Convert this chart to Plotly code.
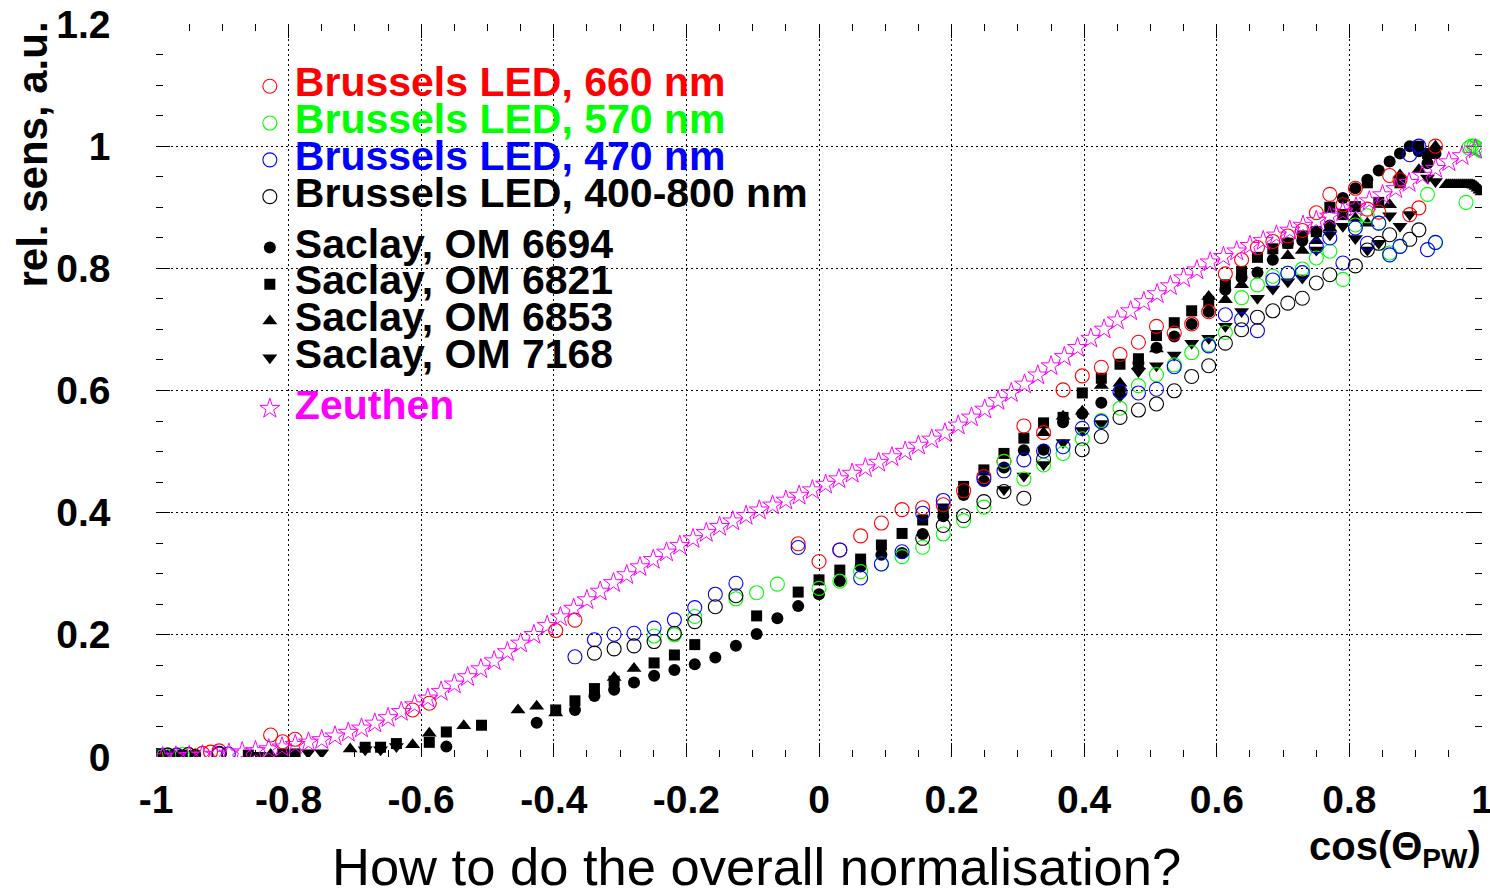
import plotly.graph_objects as go

# ---------------- data ----------------
x_tickvals = [-1, -0.8, -0.6, -0.4, -0.2, 0, 0.2, 0.4, 0.6, 0.8, 1]
x_ticktext = ["-1", "-0.8", "-0.6", "-0.4", "-0.2", "0", "0.2", "0.4", "0.6", "0.8", "1"]
y_tickvals = [0, 0.2, 0.4, 0.6, 0.8, 1.0, 1.2]
y_ticktext = ["0", "0.2", "0.4", "0.6", "0.8", "1", "1.2"]

# Brussels LED, 660 nm
red_x = [-1.0, -0.998, -0.9921, -0.9823, -0.9686, -0.9511, -0.9298, -0.9178, -0.9048,
         -0.8271, -0.809, -0.7902, -0.6129, -0.5878, -0.3971, -0.3681, -0.0314, 0.0,
         0.0314, 0.0628, 0.0941, 0.1253, 0.1564, 0.1874, 0.2181, 0.2487, 0.279, 0.309,
         0.3387, 0.3681, 0.3971, 0.4258, 0.454, 0.4818, 0.509, 0.5358, 0.5621, 0.5878,
         0.6129, 0.6374, 0.6613, 0.6845, 0.7071, 0.729, 0.7501, 0.7705, 0.7902, 0.809,
         0.8271, 0.8443, 0.8607, 0.8763, 0.891, 0.9048, 0.9298]
red_y = [0.002, 0.002, 0.002, 0.003, 0.003, 0.004, 0.006, 0.008, 0.010,
         0.036, 0.025, 0.029, 0.077, 0.088, 0.207, 0.224, 0.349, 0.320,
         0.339, 0.362, 0.383, 0.405, 0.408, 0.413, 0.436, 0.459, 0.484, 0.542,
         0.531, 0.601, 0.624, 0.638, 0.659, 0.679, 0.705, 0.694, 0.709, 0.729,
         0.791, 0.814, 0.834, 0.844, 0.853, 0.862, 0.891, 0.921, 0.904, 0.931,
         0.897, 0.892, 0.952, 0.945, 0.888, 0.899, 1.0]

# Brussels LED, 570 nm
green_x = [-0.9995, -0.9877, -0.9603, -0.2487, -0.2181, -0.1874, -0.1253, -0.0941, -0.0628,
           0.0, 0.0314, 0.0628, 0.0941, 0.1253, 0.1564, 0.1874, 0.2181, 0.2487, 0.279,
           0.309, 0.3387, 0.3681, 0.3971, 0.4258, 0.454, 0.4818, 0.509, 0.5358, 0.5621,
           0.5878, 0.6129, 0.6374, 0.6613, 0.6845, 0.7071, 0.729, 0.7501, 0.7705, 0.7902,
           0.809, 0.8271, 0.8443, 0.8607, 0.8763, 0.9178, 0.9298, 0.9759,
           0.980, 0.984, 0.988, 0.991, 0.994, 0.997, 1.0]
green_y = [0.002, 0.003, 0.004, 0.198, 0.200, 0.230, 0.259, 0.269, 0.283,
           0.276, 0.288, 0.3035, 0.316, 0.328, 0.3435, 0.365, 0.387, 0.409, 0.484,
           0.455, 0.478, 0.497, 0.521, 0.551, 0.571, 0.608, 0.626, 0.642, 0.662,
           0.675, 0.695, 0.752, 0.773, 0.787, 0.792, 0.799, 0.817, 0.828, 0.782,
           0.871, 0.886, 0.874, 0.825, 0.836, 0.921, 0.842, 0.908,
           0.997, 1.0, 1.0, 0.998, 0.996, 0.994, 0.992]

# Brussels LED, 470 nm
blue_x = [-0.9921, -0.9686, -0.9048, -0.891, -0.3681, -0.3387, -0.309, -0.279, -0.2487,
          -0.2181, -0.1874, -0.1564, -0.1253, -0.0314, 0.0314, 0.0628, 0.0941, 0.1253,
          0.1564, 0.1874, 0.2487, 0.279, 0.309, 0.3387, 0.3681, 0.3971, 0.4258, 0.454,
          0.4818, 0.509, 0.5358, 0.5878, 0.6129, 0.6374, 0.6613, 0.6845, 0.7071, 0.729,
          0.7501, 0.7705, 0.7902, 0.809, 0.8271, 0.8443, 0.8607, 0.8763, 0.891, 0.9048,
          0.9178, 0.9298]
blue_y = [0.002, 0.003, 0.006, 0.005, 0.164, 0.192, 0.201, 0.2025, 0.211,
          0.2245, 0.2446, 0.2665, 0.2845, 0.343, 0.339, 0.293, 0.316, 0.336,
          0.399, 0.420, 0.455, 0.4685, 0.4865, 0.501, 0.508, 0.538, 0.549, 0.598,
          0.596, 0.602, 0.639, 0.673, 0.724, 0.716, 0.698, 0.781, 0.792, 0.793,
          0.836, 0.8497, 0.8087, 0.866, 0.841, 0.874, 0.822, 0.836, 0.986, 1.0,
          0.8306, 0.8425]

# Brussels LED, 400-800 nm
black_x = [-0.998, -0.9823, -0.9511, -0.9048, -0.3387, -0.309, -0.279, -0.2487, -0.2181,
           -0.1874, -0.1564, -0.1253, 0.1564, 0.1874, 0.2181, 0.2487, 0.279, 0.309,
           0.3387, 0.3971, 0.4258, 0.454, 0.4818, 0.509, 0.5358, 0.5621, 0.5878, 0.6129,
           0.6374, 0.6613, 0.6845, 0.7071, 0.729, 0.7501, 0.7705, 0.809, 0.8271, 0.8443,
           0.8607, 0.891, 0.9048]
black_y = [0.002, 0.003, 0.004, 0.005, 0.170, 0.177, 0.182, 0.189, 0.2025,
           0.2217, 0.246, 0.264, 0.358, 0.379, 0.395, 0.418, 0.4346, 0.4237,
           0.4876, 0.503, 0.5247, 0.556, 0.568, 0.578, 0.5995, 0.623, 0.6405, 0.6775,
           0.6994, 0.720, 0.7305, 0.743, 0.751, 0.776, 0.7895, 0.804, 0.830, 0.841,
           0.855, 0.8475, 0.863]

# Saclay, OM 6694 (filled circles)
s6694_x = [-0.9956, -0.9759, -0.9409, -0.5621, -0.4258, -0.3681, -0.3387, -0.309, -0.279,
           -0.2487, -0.2181, -0.1874, -0.1564, -0.1253, -0.0941, -0.0628, -0.0314, 0.0,
           0.0314, 0.0628, 0.0941, 0.1253, 0.1564, 0.1874, 0.2181, 0.2487, 0.279, 0.309,
           0.3387, 0.3681, 0.3971, 0.4258, 0.454, 0.4818, 0.509, 0.5358, 0.5621, 0.5878,
           0.6129, 0.6374, 0.6613, 0.6845, 0.7071, 0.729, 0.7501, 0.7705, 0.7902, 0.809,
           0.8271, 0.8443, 0.8607, 0.8763, 0.891, 0.9048, 0.9178, 0.9298]
s6694_y = [0.002, 0.003, 0.004, 0.017, 0.056, 0.077, 0.100, 0.110, 0.122,
           0.133, 0.1425, 0.152, 0.163, 0.182, 0.2015, 0.227, 0.247, 0.2665,
           0.288, 0.312, 0.331, 0.334, 0.365, 0.394, 0.429, 0.452, 0.474, 0.502,
           0.503, 0.548, 0.562, 0.580, 0.600, 0.645, 0.670, 0.6885, 0.709, 0.729,
           0.765, 0.785, 0.793, 0.814, 0.841, 0.845, 0.860, 0.870, 0.915, 0.931,
           0.945, 0.960, 0.975, 0.988, 1.0, 0.9915, 0.972, 0.988]

# Saclay, OM 6821 (filled squares)
s6821_x = [-0.9877, -0.9603, -0.8607, -0.809, -0.7902, -0.6845, -0.6613, -0.6374, -0.5878,
           -0.5621, -0.509, -0.3971, -0.3681, -0.3387, -0.309, -0.2487, -0.2181, -0.1874,
           -0.0941, -0.0314, 0.0, 0.0314, 0.0628, 0.0941, 0.1253, 0.1564, 0.1874, 0.2181,
           0.2487, 0.279, 0.309, 0.3387, 0.3681, 0.3971, 0.4258, 0.454, 0.4818, 0.509,
           0.5358, 0.5621, 0.5878, 0.6129, 0.6374, 0.6613, 0.6845, 0.7071, 0.729, 0.7501,
           0.7705, 0.7902, 0.809, 0.8271, 0.8443, 0.8763, 0.9048, 0.9178]
s6821_y = [0.002, 0.003, 0.003, 0.005, 0.005, 0.016, 0.016, 0.022, 0.024,
           0.041, 0.052, 0.077, 0.092, 0.112, 0.124, 0.154, 0.167, 0.184,
           0.231, 0.270, 0.290, 0.306, 0.324, 0.347, 0.366, 0.388, 0.406, 0.443,
           0.470, 0.497, 0.522, 0.547, 0.556, 0.596, 0.620, 0.643, 0.652, 0.690,
           0.711, 0.7305, 0.746, 0.773, 0.795, 0.818, 0.832, 0.841, 0.853, 0.860,
           0.900, 0.888, 0.901, 0.940, 0.908, 0.940, 1.0, 0.988]

# Saclay, OM 6853 (filled triangles up)
s6853_x = [-0.9823, -0.8271, -0.7071, -0.6129, -0.5878, -0.5358, -0.454, -0.4258, -0.3971,
           -0.309, -0.279, 0.3387, 0.3681, 0.3971, 0.4258, 0.454, 0.4818, 0.509, 0.5878,
           0.6129, 0.6374, 0.7071, 0.729, 0.7501, 0.7705, 0.809, 0.8271, 0.8607, 0.8763,
           0.9048, 0.9298,
           0.946, 0.949, 0.952, 0.955, 0.958, 0.961, 0.964, 0.967, 0.970, 0.973,
           0.976, 0.979, 0.982, 0.985, 0.988, 0.991, 0.994, 0.997, 1.0]
s6853_y = [0.002, 0.004, 0.013, 0.020, 0.039, 0.051, 0.077, 0.083, 0.072,
           0.130, 0.145, 0.531, 0.558, 0.566, 0.608, 0.612, 0.640, 0.668, 0.754,
           0.7486, 0.773, 0.8206, 0.829, 0.845, 0.866, 0.882, 0.874, 0.904, 0.953,
           0.9615, 1.0,
           0.937, 0.937, 0.937, 0.937, 0.937, 0.937, 0.937, 0.937, 0.937, 0.937,
           0.937, 0.937, 0.937, 0.937, 0.936, 0.934, 0.931, 0.928, 0.925]

# Saclay, OM 7168 (filled triangles down)
s7168_x = [-0.9686, -0.8443, -0.7705, -0.7501, -0.6845, -0.6613, -0.6374, 0.279, 0.309,
           0.3387, 0.3681, 0.3971, 0.4258, 0.454, 0.4818, 0.509, 0.5358, 0.5621, 0.5878,
           0.6129, 0.6374, 0.6613, 0.6845, 0.7071, 0.729, 0.7501, 0.7705, 0.7902, 0.809,
           0.8271, 0.8443, 0.8607, 0.8763, 0.891, 0.9178, 0.9298]
s7168_y = [0.003, 0.003, 0.007, 0.007, 0.012, 0.012, 0.017, 0.438, 0.460,
           0.479, 0.515, 0.5345, 0.546, 0.590, 0.631, 0.6405, 0.658, 0.6775, 0.6857,
           0.705, 0.7295, 0.751, 0.766, 0.778, 0.784, 0.830, 0.855, 0.869, 0.849,
           0.830, 0.841, 0.886, 0.869, 0.888, 0.948, 0.942]

# Zeuthen
zeu_x = [-0.99, -0.97, -0.95, -0.93, -0.91, -0.89, -0.87, -0.85, -0.83, -0.81,
         -0.79, -0.77, -0.75, -0.73, -0.71, -0.69, -0.67, -0.65, -0.63, -0.61,
         -0.59, -0.57, -0.55, -0.53, -0.51, -0.49, -0.47, -0.45, -0.43, -0.41,
         -0.39, -0.37, -0.35, -0.33, -0.31, -0.29, -0.27, -0.25, -0.23, -0.21,
         -0.19, -0.17, -0.15, -0.13, -0.11, -0.09, -0.07, -0.05, -0.03, -0.01,
         0.01, 0.03, 0.05, 0.07, 0.09, 0.11, 0.13, 0.15, 0.17, 0.19,
         0.21, 0.23, 0.25, 0.27, 0.29, 0.31, 0.33, 0.35, 0.37, 0.39,
         0.41, 0.43, 0.45, 0.47, 0.49, 0.51, 0.53, 0.55, 0.57, 0.59,
         0.61, 0.63, 0.65, 0.67, 0.69, 0.71, 0.73, 0.75, 0.77, 0.79,
         0.81, 0.83, 0.85, 0.87, 0.89, 0.91, 0.93, 0.95, 0.97, 0.99]
zeu_y = [0.000, 0.001, 0.002, 0.003, 0.004, 0.006, 0.008, 0.010, 0.013, 0.016,
         0.020, 0.024, 0.028, 0.034, 0.040, 0.047, 0.055, 0.064, 0.074, 0.085,
         0.096, 0.107, 0.119, 0.131, 0.144, 0.157, 0.172, 0.186, 0.200, 0.215,
         0.229, 0.243, 0.257, 0.271, 0.285, 0.298, 0.311, 0.323, 0.335, 0.346,
         0.357, 0.367, 0.377, 0.386, 0.395, 0.404, 0.412, 0.420, 0.428, 0.437,
         0.446, 0.455, 0.464, 0.473, 0.482, 0.491, 0.500, 0.510, 0.520, 0.530,
         0.543, 0.556, 0.569, 0.583, 0.596, 0.610, 0.625, 0.640, 0.655, 0.670,
         0.685, 0.700, 0.715, 0.730, 0.745, 0.758, 0.771, 0.784, 0.797, 0.810,
         0.819, 0.828, 0.837, 0.845, 0.854, 0.862, 0.870, 0.878, 0.885, 0.892,
         0.900, 0.910, 0.920, 0.930, 0.940, 0.952, 0.963, 0.974, 0.984, 0.995]

# ---------------- figure ----------------
FONT = "Liberation Sans, Arial, sans-serif"


def lname(txt, color):
    return "<b><span style='color:%s;font-size:41px'>%s</span></b>" % (color, txt)


fig = go.Figure()

brussels = [
    ("Brussels LED, 660 nm", red_x, red_y, "#ff0000"),
    ("Brussels LED, 570 nm", green_x, green_y, "#00ff00"),
    ("Brussels LED, 470 nm", blue_x, blue_y, "#0000ff"),
    ("Brussels LED, 400-800 nm", black_x, black_y, "#000000"),
]
for name, xs, ys, col in brussels:
    fig.add_trace(go.Scatter(
        x=xs, y=ys, mode="markers", name=lname(name, col), legendgroup="bru", zorder=2,
        marker=dict(symbol="circle-open", size=14, color=col, line=dict(width=1.1, color=col)),
    ))

saclay = [
    ("Saclay, OM 6694", s6694_x, s6694_y, "circle", 12),
    ("Saclay, OM 6821", s6821_x, s6821_y, "square", 11),
    ("Saclay, OM 6853", s6853_x, s6853_y, "triangle-up", 13),
    ("Saclay, OM 7168", s7168_x, s7168_y, "triangle-down", 13),
]
for name, xs, ys, sym, sz in saclay:
    fig.add_trace(go.Scatter(
        x=xs, y=ys, mode="markers", name=lname(name, "#000000"), legendgroup="sac", zorder=1,
        marker=dict(symbol=sym, size=sz, color="#000000", line=dict(width=0)),
    ))

fig.add_trace(go.Scatter(
    x=zeu_x, y=zeu_y, mode="markers", name=lname("Zeuthen", "#ff00ff"), legendgroup="zeu", zorder=3,
    marker=dict(symbol="star-open", size=15, color="#ff00ff", line=dict(width=1, color="#ff00ff")),
))

axis_common = dict(
    showline=True, linecolor="black", linewidth=1.5, mirror="ticks",
    ticks="inside", ticklen=14, tickwidth=1, tickcolor="black",
    showgrid=True, gridcolor="black", gridwidth=1, griddash="2px,3px",
    zeroline=False, automargin=False,
    tickfont=dict(family=FONT, size=39, color="black", weight="bold"),
    minor=dict(ticks="inside", ticklen=7, tickwidth=1, tickcolor="black", showgrid=False, dtick=0.05),
)

fig.update_xaxes(range=[-1, 1], tickmode="array", tickvals=x_tickvals, ticktext=x_ticktext,
                 ticklabelstandoff=7, ticklabeloverflow="allow", **axis_common)
fig.update_yaxes(range=[0, 1.2], tickmode="array", tickvals=y_tickvals, ticktext=y_ticktext,
                 ticklabelstandoff=36, ticklabeloverflow="allow", **axis_common)

fig.update_layout(
    width=1490, height=893,
    margin=dict(l=156, r=8, t=24, b=136, autoexpand=False),
    paper_bgcolor="white", plot_bgcolor="white",
    font=dict(family=FONT, color="black"),
    legend=dict(
        x=0.067, y=0.947, xanchor="left", yanchor="top",
        font=dict(family=FONT, size=26, color="black"),
        bgcolor="rgba(0,0,0,0)", borderwidth=0,
        tracegroupgap=14, traceorder="grouped", itemwidth=40,
    ),
    annotations=[
        dict(text="<b>rel. sens, a.u.</b>", xref="paper", yref="paper", x=-0.0928, y=1.006,
             xanchor="center", yanchor="top", textangle=-90, showarrow=False,
             font=dict(family=FONT, size=42, color="black")),
        dict(text="<b>cos(Θ<sub>PW</sub>)</b>", xref="paper", yref="paper", x=1.001, y=-0.089,
             xanchor="right", yanchor="top", showarrow=False,
             font=dict(family=FONT, size=40, color="black")),
        dict(text="How to do the overall normalisation?", xref="paper", yref="paper",
             x=0.4525, y=-0.193, xanchor="center", yanchor="bottom", showarrow=False,
             font=dict(family=FONT, size=52.5, color="black")),
    ],
)

fig.write_html("out.html", post_script="document.body.style.margin='0';")
